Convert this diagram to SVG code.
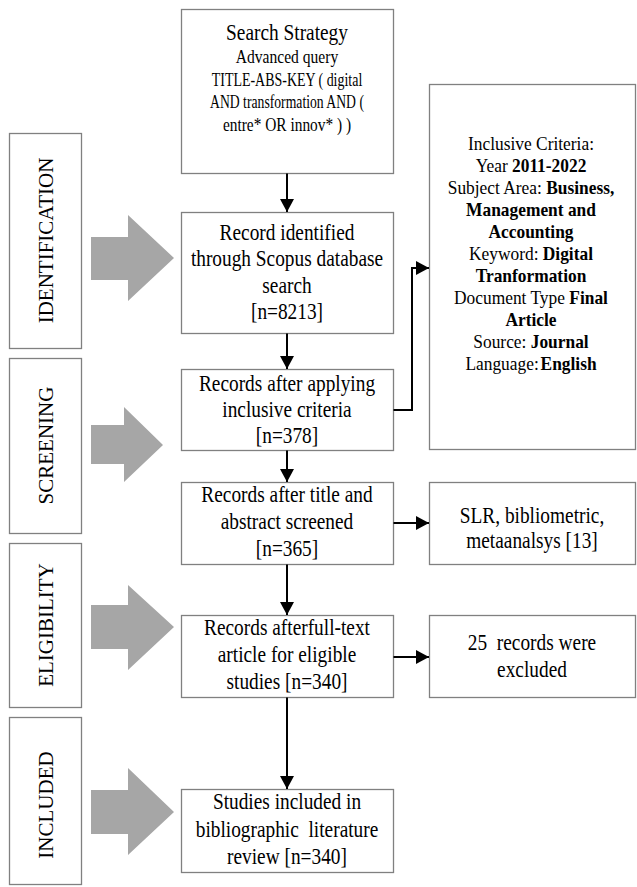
<svg xmlns="http://www.w3.org/2000/svg" width="637" height="887" viewBox="0 0 637 887">
<style>
.box{fill:#fff;stroke:#808080;stroke-width:1.3}
.t{font-family:"Liberation Serif","Times New Roman",serif;fill:#000;text-anchor:middle}
.m{font-size:22.5px}
.q{font-size:18.5px}
.inc{font-size:18.5px}
.b{font-weight:bold}
.lbl{font-size:21px}
.pre{white-space:pre}
.conn{stroke:#000;stroke-width:2;fill:none;marker-end:url(#ah)}
.blk{fill:#a6a6a6}
</style>
<defs>
<marker id="ah" markerUnits="userSpaceOnUse" markerWidth="13" markerHeight="14" refX="13" refY="7" orient="auto">
<path d="M0,0 L13,7 L0,14 Z" fill="#000"/>
</marker>
</defs>
<rect width="637" height="887" fill="#fff"/>

<g id="stage-identification">
<rect class="box" x="9.5" y="133.5" width="72" height="215"/>
<text class="t lbl" transform="translate(53,240.5) rotate(-90)">IDENTIFICATION</text>
<path class="blk" d="M91,237 H128 V215 L174,258 L128,301 V280 H91 Z"/>
</g>
<g id="stage-screening">
<rect class="box" x="9.5" y="358.5" width="72" height="175"/>
<text class="t lbl" transform="translate(53,445.5) rotate(-90)">SCREENING</text>
<path class="blk" d="M91,425 H124 V407 L163,445 L124,482 V464 H91 Z"/>
</g>
<g id="stage-eligibility">
<rect class="box" x="9.5" y="543.5" width="72" height="164"/>
<text class="t lbl" transform="translate(53,625) rotate(-90)">ELIGIBILITY</text>
<path class="blk" d="M91,605 H128 V585 L174,627 L128,670 V649 H91 Z"/>
</g>
<g id="stage-included">
<rect class="box" x="9.5" y="717.5" width="72" height="167"/>
<text class="t lbl" transform="translate(53,805) rotate(-90)">INCLUDED</text>
<path class="blk" d="M91,790 H128 V768 L174,812 L128,855 V834 H91 Z"/>
</g>

<g id="search-strategy">
<rect class="box" x="181.5" y="9.5" width="212" height="164"/>
<g transform="translate(287,0) scale(0.86,1)">
<text class="t m" x="0" y="40">Search Strategy</text>
<text class="t q" x="0" y="63" textLength="119" lengthAdjust="spacingAndGlyphs">Advanced query</text>
<text class="t q" x="0" y="86" textLength="175" lengthAdjust="spacingAndGlyphs">TITLE-ABS-KEY ( digital</text>
<text class="t q" x="0" y="108" textLength="179" lengthAdjust="spacingAndGlyphs">AND transformation AND (</text>
<text class="t q" x="0" y="131" textLength="149" lengthAdjust="spacingAndGlyphs">entre* OR innov* ) )</text>
</g>
</g>

<g id="record-identified">
<rect class="box" x="181.5" y="212.5" width="212" height="121"/>
<g transform="translate(287,0) scale(0.86,1)">
<text class="t m" x="0" y="240">Record identified</text>
<text class="t m" x="0" y="266">through Scopus database</text>
<text class="t m" x="0" y="293">search</text>
<text class="t m" x="0" y="319">[n=8213]</text>
</g>
</g>

<g id="records-applying">
<rect class="box" x="181.5" y="369.5" width="212" height="81"/>
<g transform="translate(287,0) scale(0.86,1)">
<text class="t m" x="0" y="391">Records after applying</text>
<text class="t m" x="0" y="417">inclusive criteria</text>
<text class="t m" x="0" y="443">[n=378]</text>
</g>
</g>

<g id="inclusive-criteria">
<rect class="box" x="429.5" y="84.5" width="206" height="365"/>
<g transform="translate(531,0) scale(0.94,1)">
<text class="t inc" x="0" y="150">Inclusive Criteria:</text>
<text class="t inc" x="0" y="172">Year <tspan class="b">2011-2022</tspan></text>
<text class="t inc" x="0" y="194">Subject Area: <tspan class="b">Business,</tspan></text>
<text class="t inc b" x="0" y="216">Management and</text>
<text class="t inc b" x="0" y="238">Accounting</text>
<text class="t inc" x="0" y="260">Keyword: <tspan class="b">Digital</tspan></text>
<text class="t inc b" x="0" y="282">Tranformation</text>
<text class="t inc" x="0" y="304">Document Type <tspan class="b">Final</tspan></text>
<text class="t inc b" x="0" y="326">Article</text>
<text class="t inc" x="0" y="348">Source: <tspan class="b">Journal</tspan></text>
<text class="t inc" x="0" y="370">Language:<tspan class="b" dx="2">English</tspan></text>
</g>
</g>

<g id="records-title-abstract">
<rect class="box" x="181.5" y="482.5" width="212" height="82"/>
<g transform="translate(287,0) scale(0.86,1)">
<text class="t m" x="0" y="502">Records after title and</text>
<text class="t m" x="0" y="529">abstract screened</text>
<text class="t m" x="0" y="556">[n=365]</text>
</g>
</g>

<g id="slr-excluded">
<rect class="box" x="429.5" y="482.5" width="206" height="82"/>
<g transform="translate(532,0) scale(0.86,1)">
<text class="t m" x="0" y="523">SLR, bibliometric,</text>
<text class="t m" x="0" y="548">metaanalsys [13]</text>
</g>
</g>

<g id="records-fulltext">
<rect class="box" x="181.5" y="615.5" width="212" height="82"/>
<g transform="translate(287,0) scale(0.86,1)">
<text class="t m" x="0" y="635">Records afterfull-text</text>
<text class="t m" x="0" y="662">article for eligible</text>
<text class="t m" x="0" y="689">studies [n=340]</text>
</g>
</g>

<g id="records-excluded">
<rect class="box" x="429.5" y="615.5" width="206" height="82"/>
<g transform="translate(532,0) scale(0.86,1)">
<text class="t m pre" x="0" y="650">25  records were</text>
<text class="t m" x="0" y="677">excluded</text>
</g>
</g>

<g id="studies-included">
<rect class="box" x="181.5" y="789.5" width="212" height="83"/>
<g transform="translate(287,0) scale(0.86,1)">
<text class="t m" x="0" y="809">Studies included in</text>
<text class="t m pre" x="0" y="837">bibliographic  literature</text>
<text class="t m" x="0" y="864">review [n=340]</text>
</g>
</g>

<g id="connectors">
<path class="conn" d="M287,173.5 V212"/>
<path class="conn" d="M287,333.5 V369"/>
<path class="conn" d="M393.5,410 H412 V268 H429"/>
<path class="conn" d="M287,450.5 V482"/>
<path class="conn" d="M393.5,523 H429"/>
<path class="conn" d="M287,564.5 V615"/>
<path class="conn" d="M393.5,657 H429"/>
<path class="conn" d="M287,697.5 V789"/>
</g>
</svg>
